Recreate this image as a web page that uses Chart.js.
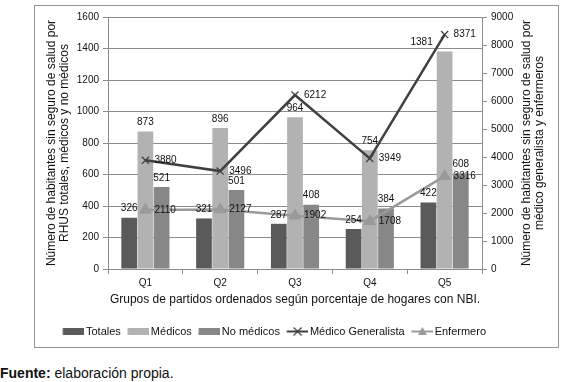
<!DOCTYPE html>
<html>
<head>
<meta charset="utf-8">
<script src="https://cdn.jsdelivr.net/npm/chart.js@4"></script>
<style>
  body { margin: 0; background: #fff; font-family: "Liberation Sans", Arial, sans-serif; }
  #box { position: absolute; left: 34px; top: 5px; width: 523px; height: 341px; border: 1px solid #969696; }
  #note { position: absolute; left: 0; top: 365px; font-size: 14px; line-height: 16px; color: #111; }
</style>
</head>
<body>
<div id="box"><canvas id="c" width="523" height="341"></canvas></div>
<div id="note"><b>Fuente:</b> elaboración propia.</div>
<script>
// groups of districts (quintiles by % of households with NBI)
const categories = ['Q1', 'Q2', 'Q3', 'Q4', 'Q5'];

// left axis: inhabitants without insurance per RHUS
const totales    = [326, 321, 287, 254, 422];
const medicos    = [873, 896, 964, 754, 1381];
const noMedicos  = [521, 501, 408, 384, 608];

// right axis: per general practitioner / nurse
const medicoGeneralista = [3880, 3496, 6212, 3949, 8371];
const enfermero         = [2110, 2127, 1902, 1708, 3316];

const leftTitle  = ['Número de habitantes sin seguro de salud por', 'RHUS totales, médicos y no médicos'];
const rightTitle = ['Número de habitantes sin seguro de salud por', 'médico generalista y enfermeros'];
const xTitle = 'Grupos de partidos ordenados según porcentaje de hogares con NBI.';

const FONT = '"Liberation Sans", Arial, sans-serif';
const TXT = '#111';
const GRID = '#8c8c8c';

// legend icons: 22px swatch drawn a bit right of centre so it sits close to its text
const ICON_BOX = 19.5;
function legendIcon(ds) {
  const a = 1.5, c0 = ICON_BOX / 2;
  const w = 2 * Math.max(c0 - a, a + 22 - c0);
  const ox = a - (c0 - w / 2);
  const c = document.createElement('canvas');
  c.width = w; c.height = 11;
  const g = c.getContext('2d');
  if (ds.type === 'bar') {
    g.fillStyle = ds.backgroundColor;
    g.fillRect(ox, 2, 22, 7);
  } else {
    g.strokeStyle = ds.borderColor;
    g.lineWidth = 2;
    g.beginPath(); g.moveTo(ox, 5.5); g.lineTo(ox + 22, 5.5); g.stroke();
    if (ds.pointStyle === 'crossRot') {
      g.lineWidth = 1.2;
      g.beginPath();
      g.moveTo(ox + 7, 1.5); g.lineTo(ox + 15, 9.5);
      g.moveTo(ox + 15, 1.5); g.lineTo(ox + 7, 9.5);
      g.stroke();
    } else {
      g.fillStyle = ds.borderColor;
      g.beginPath(); g.moveTo(ox + 11, 1); g.lineTo(ox + 15.5, 9); g.lineTo(ox + 6.5, 9); g.closePath(); g.fill();
    }
  }
  return c;
}

const valueLabels = {
  id: 'valueLabels',
  afterDatasetsDraw(chart) {
    const ctx = chart.ctx;
    ctx.save();
    ctx.font = '10px ' + FONT;
    ctx.fillStyle = TXT;
    chart.data.datasets.forEach((ds, i) => {
      const meta = chart.getDatasetMeta(i);
      meta.data.forEach((el, j) => {
        const txt = String(ds.data[j]);
        const shift = (ds.labelShift && ds.labelShift[j]) || 0;
        if (meta.type === 'bar') {
          ctx.textAlign = 'center';
          ctx.textBaseline = 'bottom';
          ctx.fillText(txt, el.x + shift, el.y - 4);
        } else {
          ctx.textAlign = 'left';
          ctx.textBaseline = 'middle';
          ctx.fillText(txt, el.x + 9, el.y);
        }
      });
    });
    ctx.restore();
  }
};

// right title reads bottom-to-top like the left one
const rightAxisTitle = {
  id: 'rightAxisTitle',
  afterDraw(chart) {
    const a = chart.chartArea, ctx = chart.ctx;
    ctx.save();
    ctx.translate(chart.scales.y2.right - 31, (a.top + a.bottom) / 2);
    ctx.rotate(-Math.PI / 2);
    ctx.font = '12px ' + FONT;
    ctx.fillStyle = TXT;
    ctx.textAlign = 'center';
    ctx.textBaseline = 'middle';
    rightTitle.forEach((t, k) => ctx.fillText(t, 0, k * 13));
    ctx.restore();
  }
};

// the legend row sits left of the canvas centre in the original
const legendShift = {
  id: 'legendShift',
  afterLayout(chart) { chart.legend.right -= 46; }
};

new Chart(document.getElementById('c'), {
  data: {
    labels: categories,
    datasets: [
      { type: 'bar', label: 'Totales', data: totales, backgroundColor: '#5a5a5a', yAxisID: 'y', order: 2 },
      { type: 'bar', label: 'Médicos', data: medicos, backgroundColor: '#b2b2b2', yAxisID: 'y', order: 2, labelShift: [0, 0, 0, 0, -23] },
      { type: 'bar', label: 'No médicos', data: noMedicos, backgroundColor: '#878787', yAxisID: 'y', order: 2 },
      {
        type: 'line', label: 'Médico Generalista', data: medicoGeneralista, yAxisID: 'y2', order: 1,
        borderColor: '#404040', borderWidth: 2.5, tension: 0,
        pointStyle: 'crossRot', pointRadius: 5, pointBorderWidth: 1.3, pointBorderColor: '#404040',
      },
      {
        type: 'line', label: 'Enfermero', data: enfermero, yAxisID: 'y2', order: 1,
        borderColor: '#9a9a9a', borderWidth: 2.5, tension: 0,
        pointStyle: 'triangle', pointRadius: 5, pointBackgroundColor: '#9a9a9a', pointBorderColor: '#9a9a9a',
      },
    ],
  },
  options: {
    responsive: false,
    animation: false,
    datasets: { bar: { categoryPercentage: 0.65, barPercentage: 0.97 } },
    layout: { padding: { top: 11, bottom: 0, left: 0, right: 0 } },
    plugins: {
      tooltip: { enabled: false },
      legend: {
        position: 'bottom',
        labels: {
          usePointStyle: true,
          pointStyleWidth: ICON_BOX,
          padding: 5,
          color: TXT,
          font: { family: FONT, size: 11 },
          generateLabels: (chart) => chart.data.datasets.map((ds, i) => ({
            text: ds.label,
            pointStyle: legendIcon(ds),
            datasetIndex: i,
            hidden: false,
            fontColor: TXT,
            lineWidth: 0,
            strokeStyle: 'transparent',
            fillStyle: 'transparent',
          })),
        },
      },
    },
    scales: {
      x: {
        afterFit: (s) => { s.height = 52; },
        grid: { offset: true, drawOnChartArea: false, color: GRID, tickLength: 5 },
        border: { color: GRID },
        ticks: { color: TXT, padding: 3, font: { family: FONT, size: 10 } },
        title: { display: true, text: xTitle, color: TXT, font: { family: FONT, size: 12 }, padding: { top: 0, bottom: 14 } },
      },
      y: {
        position: 'left',
        min: 0, max: 1600,
        afterFit: (s) => { s.width = 73; },
        ticks: { stepSize: 200, color: TXT, padding: 4, font: { family: FONT, size: 10 }, callback: (v) => String(v) },
        grid: { color: GRID, tickLength: 5 },
        border: { color: GRID },
        title: { display: true, text: leftTitle, color: TXT, font: { family: FONT, size: 12, lineHeight: 1.1 }, padding: { top: 10, bottom: 0 } },
      },
      y2: {
        position: 'right',
        min: 0, max: 9000,
        afterFit: (s) => { s.width = 76; },
        ticks: { stepSize: 1000, color: TXT, padding: 4, font: { family: FONT, size: 10 }, callback: (v) => String(v) },
        grid: { drawOnChartArea: false, color: GRID, tickLength: 5 },
        border: { color: GRID },
      },
    },
  },
  plugins: [valueLabels, rightAxisTitle, legendShift],
});
</script>
</body>
</html>
